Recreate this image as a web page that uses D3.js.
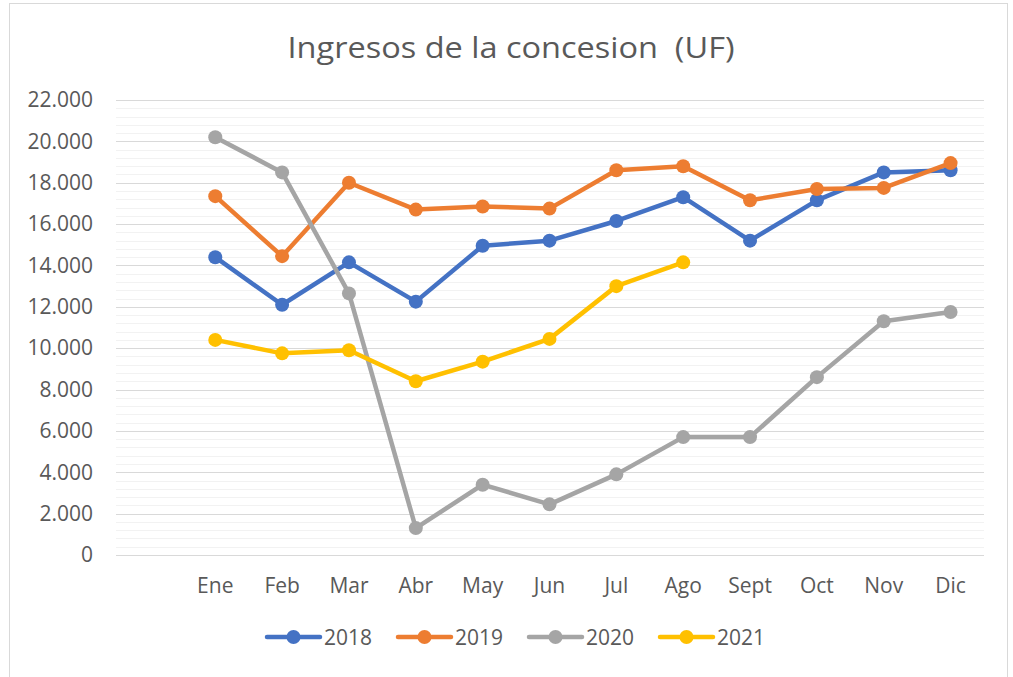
<!DOCTYPE html>
<html>
<head>
<meta charset="utf-8">
<script src="https://cdn.jsdelivr.net/npm/d3@7"></script>
<style>
  body { margin: 0; background: #fff; }
  text { font-family: "Open Sans", "Noto Sans", sans-serif; fill: #595959; }
</style>
</head>
<body>
<script>
// data
var months = ["Ene", "Feb", "Mar", "Abr", "May", "Jun", "Jul", "Ago", "Sept", "Oct", "Nov", "Dic"];
var years = ["2018", "2019", "2020", "2021"];
var v2018 = [14400, 12100, 14150, 12250, 14950, 15200, 16150, 17300, 15200, 17150, 18500, 18600];
var v2019 = [17350, 14450, 18000, 16700, 16850, 16750, 18600, 18800, 17150, 17700, 17750, 18950];
var v2020 = [20200, 18500, 12650, 1300, 3400, 2450, 3900, 5700, 5700, 8600, 11300, 11750];
var v2021 = [10400, 9750, 9900, 8400, 9350, 10450, 13000, 14150];
var yTicks = [0, 2000, 4000, 6000, 8000, 10000, 12000, 14000, 16000, 18000, 20000, 22000];
var colors = ["#4472C4", "#ED7D31", "#A5A5A5", "#FFC000"];

var series = [v2018, v2019, v2020, v2021];

var W = 1013, H = 677;
var svg = d3.select("body").append("svg")
    .attr("width", W)
    .attr("height", H);

// chart frame
svg.append("rect")
    .attr("x", 9.5).attr("y", 3.5)
    .attr("width", 998).attr("height", 690)
    .attr("fill", "#fff")
    .attr("stroke", "#d9d9d9");

// title (keeps the double space of the original)
svg.append("text")
    .attr("x", 511)
    .attr("y", 58)
    .attr("text-anchor", "middle")
    .style("font-size", "29px")
    .style("white-space", "pre")
    .attr("textLength", 447)
    .attr("lengthAdjust", "spacingAndGlyphs")
    .text("Ingresos de la concesion  (UF)");

// first slot of the category axis is empty in the original
var x = d3.scaleBand()
    .domain([""].concat(months))
    .range([115, 984]);

var y = d3.scaleLinear()
    .domain([0, 22000])
    .range([555, 100]);

// minor gridlines
svg.append("g").selectAll("line")
    .data(d3.range(0, 22001, 400).filter(function (d) { return d % 2000 != 0; }))
    .enter().append("line")
    .attr("x1", 116).attr("x2", 984)
    .attr("y1", function (d) { return Math.round(y(d)) + 0.5; })
    .attr("y2", function (d) { return Math.round(y(d)) + 0.5; })
    .attr("stroke", "#f2f2f2");

// major gridlines
svg.append("g").selectAll("line")
    .data(yTicks)
    .enter().append("line")
    .attr("x1", 116).attr("x2", 984)
    .attr("y1", function (d) { return Math.round(y(d)) + 0.5; })
    .attr("y2", function (d) { return Math.round(y(d)) + 0.5; })
    .attr("stroke", "#d9d9d9");

// y axis labels
var fmt = function (d) { return d == 0 ? "0" : d3.format(",")(d).replace(/,/g, "."); };
var yAxis = svg.append("g")
    .attr("transform", "translate(101,0)")
    .call(d3.axisLeft(y).tickValues(yTicks).tickFormat(fmt).tickSize(0).tickPadding(8));
yAxis.select(".domain").remove();
yAxis.selectAll("text")
    .style("font-size", "21px")
    .style("font-family", null)
    .attr("fill", null);

// x axis labels
var xAxis = svg.append("g")
    .attr("transform", "translate(0,576)")
    .call(d3.axisBottom(x).tickSize(0).tickPadding(0));
xAxis.select(".domain").remove();
xAxis.selectAll("text")
    .style("font-size", "21px")
    .style("font-family", null)
    .attr("fill", null)
    .attr("dy", "0.8em");

var cx = function (d, i) { return x(months[i]) + x.bandwidth() / 2; };

var line = d3.line()
    .x(cx)
    .y(function (d) { return y(d); });

series.forEach(function (vals, k) {
    var g = svg.append("g");
    g.append("path")
        .datum(vals)
        .attr("d", line)
        .attr("fill", "none")
        .attr("stroke", colors[k])
        .attr("stroke-width", 4.5)
        .attr("stroke-linejoin", "round")
        .attr("stroke-linecap", "round");
    g.selectAll("circle")
        .data(vals)
        .enter().append("circle")
        .attr("cx", cx)
        .attr("cy", function (d) { return y(d); })
        .attr("r", 7)
        .attr("fill", colors[k]);
});

// legend
var legend = svg.append("g").attr("transform", "translate(265,637)");
var item = legend.selectAll("g")
    .data(years)
    .enter().append("g")
    .attr("transform", function (d, i) { return "translate(" + (i * 131) + ",0)"; });
item.append("line")
    .attr("x1", 2).attr("x2", 55)
    .attr("stroke", function (d, i) { return colors[i]; })
    .attr("stroke-width", 4.5)
    .attr("stroke-linecap", "round");
item.append("circle")
    .attr("cx", 28.5)
    .attr("r", 7)
    .attr("fill", function (d, i) { return colors[i]; });
item.append("text")
    .attr("x", 59)
    .attr("dy", "0.36em")
    .style("font-size", "21px")
    .text(function (d) { return d; });
</script>
</body>
</html>
